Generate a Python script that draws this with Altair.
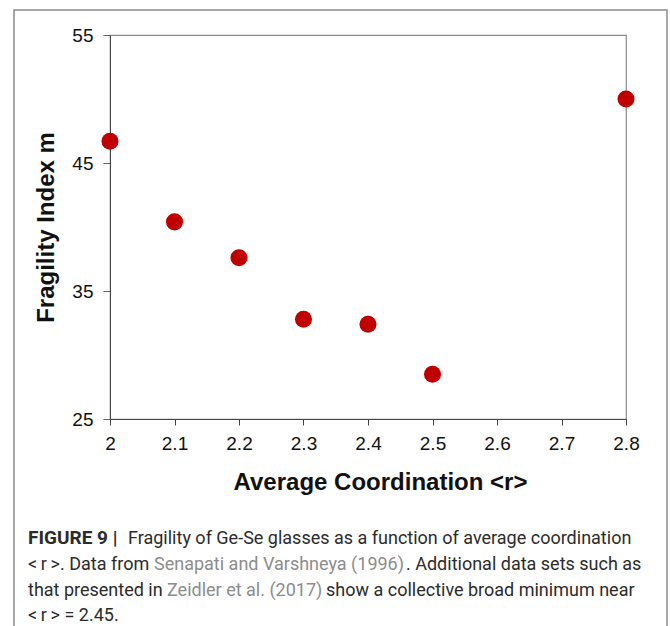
import altair as alt
import pandas as pd

# Average coordination <r> and fragility index m for Ge-Se glasses
coordination = [2.0, 2.1, 2.2, 2.3, 2.4, 2.5, 2.8]
fragility = [46.7, 40.4, 37.6, 32.8, 32.4, 28.5, 50.0]

x_ticks = [2.0, 2.1, 2.2, 2.3, 2.4, 2.5, 2.6, 2.7, 2.8]
y_ticks = [25, 35, 45, 55]

# Plot-area geometry (the view origin sits at the padding offset)
PAD_L, PAD_T = 110, 35
W, H = 516, 384
TOTAL_W, TOTAL_H = 670, 626

df = pd.DataFrame({"r": coordination, "m": fragility})

points = alt.Chart(df).mark_circle(size=290, opacity=1, color="#c00000").encode(
    x=alt.X(
        "r:Q",
        scale=alt.Scale(domain=[2.0, 2.8], nice=False, zero=False),
        axis=alt.Axis(
            values=x_ticks,
            format="~g",
            title="Average Coordination <r>",
            titleFontSize=24,
            titleFontWeight="bold",
            titlePadding=17,
            titleX=270,
            labelFontSize=19,
            labelPadding=9,
            labelFlush=False,
            tickSize=6,
            grid=False,
            domainColor="#444",
            tickColor="#444",
            labelColor="#111",
            titleColor="#111",
        ),
    ),
    y=alt.Y(
        "m:Q",
        scale=alt.Scale(domain=[25, 55], nice=False, zero=False),
        axis=alt.Axis(
            values=y_ticks,
            title="Fragility Index m",
            titleFontSize=24,
            titleFontWeight="bold",
            titlePadding=13,
            labelFontSize=19,
            labelPadding=10,
            labelFlush=False,
            tickSize=7,
            grid=False,
            domainColor="#444",
            tickColor="#666",
            labelColor="#111",
            titleColor="#111",
        ),
    ),
)

# Outer figure frame
frame = alt.Chart(pd.DataFrame({"a": [0]})).mark_rect(
    fill=None, stroke="#8a8a8a", strokeWidth=1.5
).encode(
    x=alt.value(14 - PAD_L),
    x2=alt.value(667 - PAD_L),
    y=alt.value(10 - PAD_T),
    y2=alt.value(640 - PAD_T),
)

# Caption segments: text, left x, baseline y, colour, weight, size
DARK = "#2b2b2b"
GREY = "#8c8c8c"
R_SYM = "<\u2009r\u2009>"
caption_text = [
    "FIGURE 9 |",
    "Fragility of Ge-Se glasses as a function of average coordination",
    f"{R_SYM}. Data from",
    "Senapati and Varshneya (1996)",
    ". Additional data sets such as",
    "that presented in",
    "Zeidler et al. (2017)",
    "show a collective broad minimum near",
    f"{R_SYM} = 2.45.",
]
caption_x = [28, 128, 28, 154, 406, 28, 167, 326, 28]
caption_y = [544, 544, 570, 570, 570, 596, 596, 596, 621]
caption_color = [DARK, DARK, DARK, GREY, DARK, DARK, GREY, DARK, DARK]
caption_weight = ["bold", "normal", "normal", "normal", "normal", "normal", "normal", "normal", "normal"]
caption_size = [19, 18, 18, 18, 18, 18, 18, 18, 18]

caption_layers = []
for t, cx, cy, col, wt, fs in zip(caption_text, caption_x, caption_y, caption_color, caption_weight, caption_size):
    caption_layers.append(
        alt.Chart(pd.DataFrame({"t": [t]})).mark_text(
            align="left",
            baseline="alphabetic",
            font="Roboto",
            fontSize=fs,
            fontWeight=wt,
            color=col,
        ).encode(
            x=alt.value(cx - PAD_L),
            y=alt.value(cy - PAD_T),
            text="t:N",
        )
    )

chart = alt.layer(points, frame, *caption_layers).properties(
    width=W,
    height=H,
    autosize=alt.AutoSizeParams(type="none"),
    padding={"left": PAD_L, "top": PAD_T, "right": TOTAL_W - PAD_L - W, "bottom": TOTAL_H - PAD_T - H},
    background="white",
).configure_view(
    stroke="#8a8a8a", strokeWidth=1.2
).configure_axis(
    labelFont="Liberation Sans", titleFont="Liberation Sans"
)

chart.save("out.html", embed_options={"renderer": "svg", "actions": False})
